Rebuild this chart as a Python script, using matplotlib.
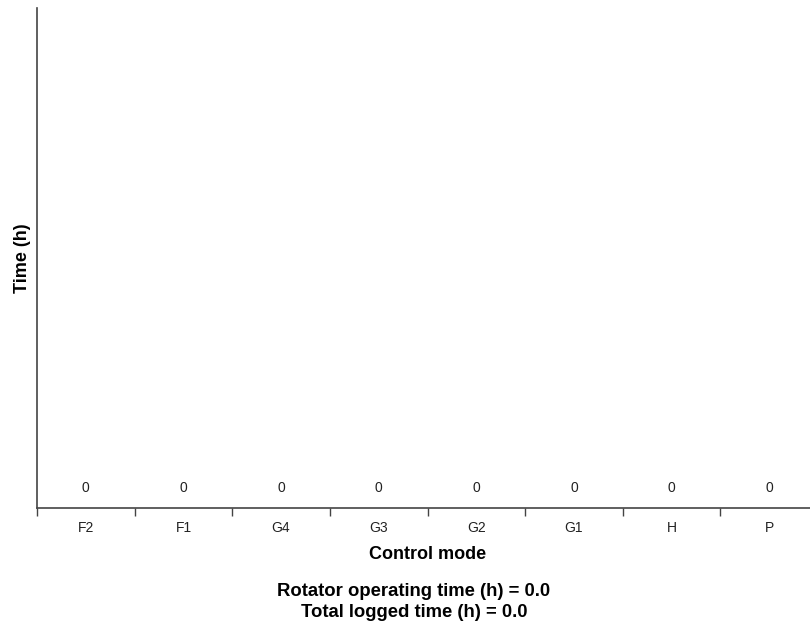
import matplotlib
matplotlib.use("Agg")
import matplotlib.pyplot as plt
import numpy as np

plt.rcParams['font.family'] = ['Liberation Sans', 'DejaVu Sans']

categories = ["F2", "F1", "G4", "G3", "G2", "G1", "H", "P"]
values = [0, 0, 0, 0, 0, 0, 0, 0]
rotator_time = 0.0
total_time = 0.0

fig = plt.figure(figsize=(8.10, 6.23), dpi=100)
ax = fig.add_axes([37/810, 1-508/623, 781/810, 500/623])

x = np.arange(len(categories)) + 0.5
ax.bar(x, values, width=0.9, color="#4682b4")
for xi, v in zip(x, values):
    ax.annotate(f"{v}", (xi, v), xytext=(0, 9.5), textcoords="offset points",
                ha="center", va="bottom", fontsize=10, color="#222")

ax.set_xlim(0, len(categories))
ax.set_ylim(0, 1)
ax.set_xticks(x)
ax.set_xticklabels(categories, fontsize=10, color="#222")
ax.set_xticks(np.arange(len(categories) + 1), minor=True)
ax.tick_params(axis="x", which="major", length=0, pad=9)
ax.tick_params(axis="x", which="minor", length=6, width=1, color="#444", direction="out")
ax.set_yticks([])
for s in ["top", "right"]:
    ax.spines[s].set_visible(False)
for s in ["left", "bottom"]:
    ax.spines[s].set_color("#444")
    ax.spines[s].set_linewidth(1.2)

ax.set_xlabel("Control mode", fontsize=13, fontweight="bold", labelpad=8)
ax.set_ylabel("Time (h)", fontsize=13, fontweight="bold", labelpad=4.5)

fig.text(414/810, 1 - 596/623, f"Rotator operating time (h) = {rotator_time:.1f}",
         ha="center", va="baseline", fontsize=13.3, fontweight="bold")
fig.text(414/810, 1 - 617/623, f"Total logged time (h) = {total_time:.1f}",
         ha="center", va="baseline", fontsize=13.3, fontweight="bold")

fig.savefig("out.png", dpi=100)
